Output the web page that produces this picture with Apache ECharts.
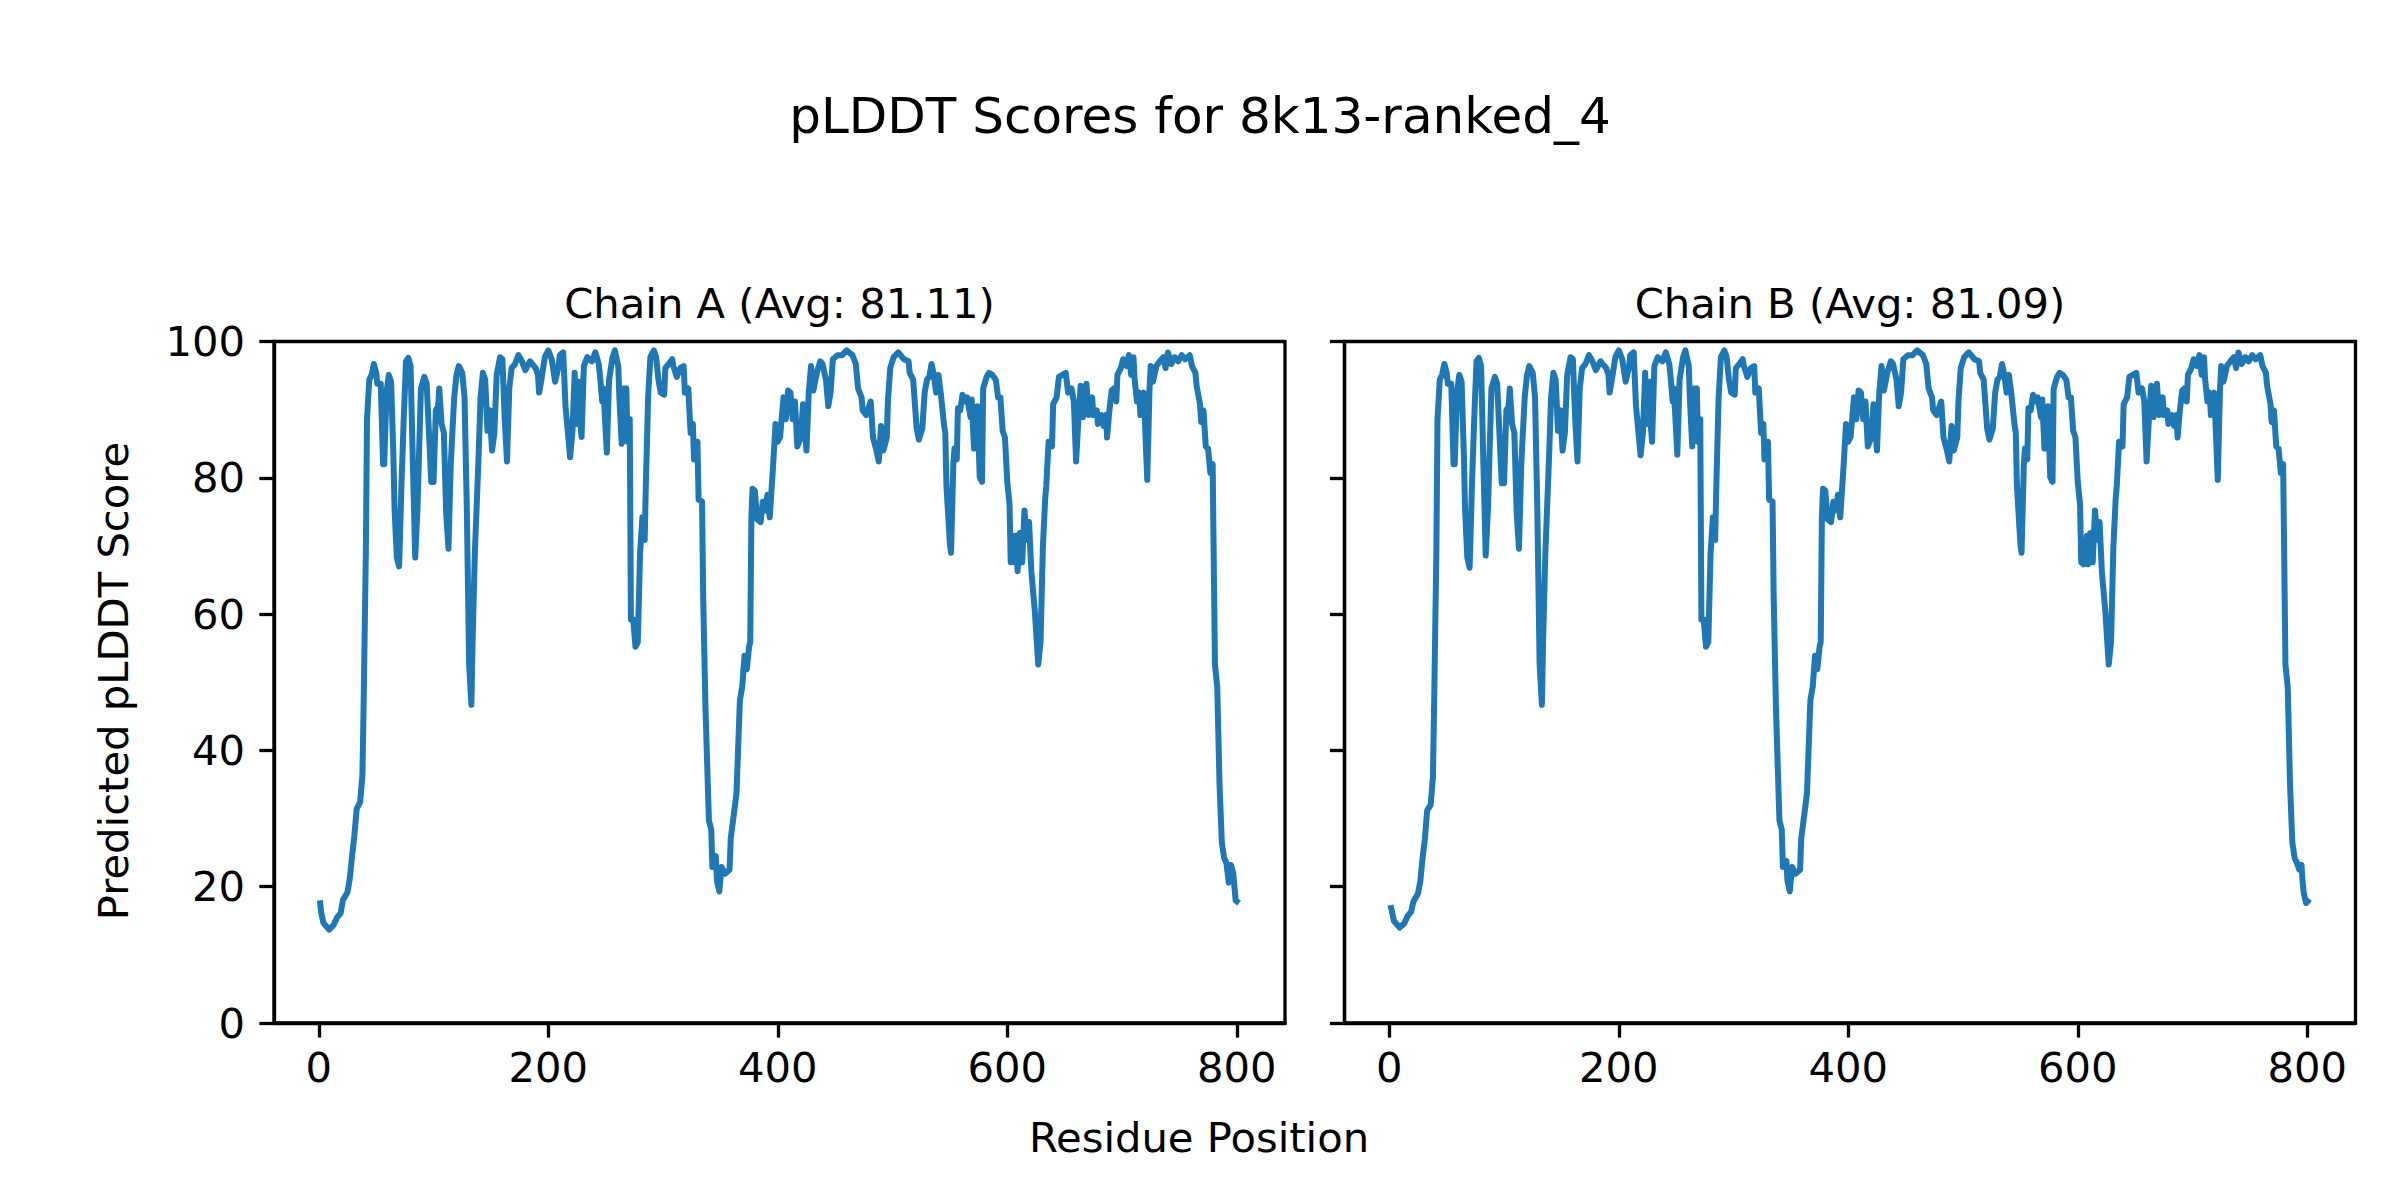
<!DOCTYPE html>
<html>
<head>
<meta charset="utf-8">
<script src="https://cdn.jsdelivr.net/npm/echarts@6/dist/echarts.min.js"></script>
<style>html,body{margin:0;padding:0;background:#fff}#c{width:2400px;height:1200px}</style>
</head>
<body>
<div id="c"></div>
<script>
var figTitle = 'pLDDT Scores for 8k13-ranked_4';
var chainTitles = ['Chain A (Avg: 81.11)', 'Chain B (Avg: 81.09)'];
var xLabel = 'Residue Position';
var yLabel = 'Predicted pLDDT Score';
var xTicks = [0, 200, 400, 600, 800];
var yTicks = [0, 20, 40, 60, 80, 100];

// [residue, pLDDT]
var chainA = [[1,18.0],[2,16.3],[4,14.7],[9,13.7],[13,14.4],[16,15.5],[19,16.1],[21,18],[25,19.2],[27,21.2],[29,24.5],[31,27.5],[33,31.4],[36,32.4],[38,36.3],[39,46],[41,69],[42,88.6],[44,94.4],[46,95.1],[48,96.7],[50,95.4],[51,93.8],[54,93.8],[56,82],[57,82],[59,92.5],[61,95.1],[63,94.1],[65,83.3],[66,75.5],[68,68.3],[70,67],[72,78.8],[74,88.6],[76,97.1],[78,97.6],[80,96.4],[82,82],[84,68.3],[86,75.5],[89,93.1],[92,94.8],[94,93.8],[98,79.4],[100,79.4],[102,89.9],[104,90.5],[105,93.1],[107,87.9],[109,86.6],[111,74.8],[113,69.6],[115,82],[118,91.8],[120,95.1],[122,96.4],[125,95.4],[127,91.8],[129,75.5],[131,52.6],[133,46.7],[134,55.9],[136,69],[139,82],[141,91.8],[143,95.4],[145,94.4],[147,86.9],[149,89.9],[151,84],[153,86.6],[155,95.1],[158,97.7],[160,97.4],[162,88.6],[164,82.4],[166,93.1],[168,96.1],[171,96.7],[174,98],[177,97.1],[180,95.8],[184,97.1],[189,96.1],[191,95.1],[192,92.5],[194,94.4],[197,97.7],[200,98.7],[203,97.4],[206,94.1],[209,96.4],[210,98],[213,98.4],[215,90.5],[219,83],[221,86.6],[223,95.4],[224,87.9],[227,94.1],[228,87.9],[229,86],[231,96.4],[234,97.7],[238,97.1],[241,98.4],[244,96.7],[245,95.1],[247,91.2],[248,93.1],[251,83.7],[253,94.4],[256,97.7],[258,98.7],[261,96.4],[262,91.5],[264,85],[266,93.1],[268,93.1],[269,85.3],[271,88.6],[272,59.2],[274,59.2],[276,55.2],[278,55.9],[280,69],[282,74.2],[284,70.9],[285,78.8],[287,91.8],[289,97.7],[292,98.7],[294,97.7],[296,94.4],[298,92.5],[301,92.2],[302,96.1],[305,96.7],[308,97.4],[309,96.4],[312,94.8],[315,96.1],[318,96.4],[319,92.5],[322,93.1],[324,86.6],[326,87.9],[327,82.7],[330,85.3],[331,76.8],[334,76.5],[335,62.4],[337,46.1],[340,29.7],[342,28.4],[343,22.9],[346,24.5],[347,20.9],[349,19.3],[351,22.9],[354,21.9],[358,22.5],[359,27.1],[362,31],[364,33.7],[366,42.8],[367,47.4],[369,49.3],[371,53.9],[373,51.9],[375,55.2],[376,55.9],[377,74.2],[378,78.4],[380,78.1],[382,73.9],[385,73.5],[387,76.5],[389,75.2],[391,77.5],[393,74.2],[396,82],[398,87.9],[400,85.3],[402,86],[405,91.8],[407,88.6],[409,92.8],[411,92.5],[413,88.6],[415,91.2],[417,84.6],[420,85.9],[422,90.8],[425,84],[427,92.5],[429,96.4],[431,92.8],[434,95.4],[437,97.1],[439,96.7],[442,94.4],[444,90.5],[446,92.5],[448,97.4],[452,98],[456,98],[460,98.7],[465,98],[468,96.7],[470,93.1],[473,91.8],[474,89.9],[477,89.2],[479,90.2],[481,91.2],[483,85.9],[486,84],[488,82.4],[490,87.6],[492,84],[495,85.9],[496,91.2],[498,96.1],[501,97.7],[505,98.4],[510,97.4],[514,97.1],[515,95.4],[518,94.4],[521,87.3],[523,85.6],[526,87.3],[528,92.5],[530,94.4],[532,94.8],[534,96.7],[536,95.1],[538,92.5],[540,95.1],[542,92.5],[545,87.6],[546,86.6],[547,78.8],[550,70.3],[551,69],[553,82],[554,84.3],[556,82.7],[557,90.2],[559,89.9],[561,92.2],[563,91.2],[565,91.8],[568,88.9],[569,91.5],[571,84.3],[574,90.5],[576,80.1],[578,79.4],[579,93.1],[582,94.8],[584,95.4],[587,95.1],[590,94.4],[592,91.8],[594,91.8],[596,86.9],[598,85.9],[600,79.4],[602,76.1],[603,67.6],[605,71.5],[606,67.6],[608,71.5],[609,66.3],[611,71.9],[613,67.6],[615,75.2],[617,70.9],[619,73.5],[621,66.3],[623,62.4],[624,60.5],[627,52.6],[629,55.9],[631,69.6],[633,76.8],[634,78.8],[636,85.3],[639,84.6],[640,90.8],[643,91.8],[645,94.8],[648,95.1],[651,95.4],[653,92.5],[656,93.1],[658,91.2],[660,82.4],[662,88.6],[664,93.5],[666,88.9],[669,93.8],[671,89.2],[674,91.8],[675,89.2],[678,89.9],[679,87.9],[682,89.2],[684,87.6],[686,89.2],[687,85.9],[689,89.9],[691,92.8],[693,93.1],[695,91.2],[696,95.1],[699,96.1],[701,97.4],[704,96.4],[706,98],[708,95.1],[710,97.7],[711,94.4],[713,91.2],[715,92.5],[716,89.2],[719,92.5],[722,79.7],[724,93.1],[725,96.4],[727,94.1],[730,96.4],[733,97.1],[736,97.7],[738,96.1],[740,98.4],[743,96.7],[746,97.7],[749,97.1],[752,98],[755,97.4],[759,98],[761,96.4],[764,95.4],[765,93.5],[768,90.8],[769,88.2],[771,89.9],[773,84.6],[775,84.3],[777,80.7],[779,82],[781,52.6],[783,49.3],[785,35],[787,26.5],[789,24.2],[791,23.5],[793,20.6],[795,23.2],[797,21.9],[799,18],[802,17.6]];

var chainB = [[1,17.3],[2,16.6],[4,15.0],[9,14.0],[13,14.6],[16,15.7],[19,16.3],[21,17.8],[25,19.0],[27,20.8],[29,24.2],[31,27.0],[33,31.2],[36,32.0],[38,36.0],[39,46],[41,69],[42,88.6],[44,94.4],[46,95.1],[48,96.7],[50,95.4],[51,93.8],[54,93.8],[56,82],[57,82],[59,92.5],[61,95.1],[63,94.1],[65,83.3],[66,75.5],[68,68.3],[70,66.8],[72,78.8],[74,88.6],[76,97.1],[78,97.6],[80,96.4],[82,82],[84,68.6],[86,75.5],[89,93.1],[92,94.8],[94,93.8],[98,79.2],[100,79.2],[102,89.9],[104,90.5],[105,93.1],[107,87.9],[109,86.6],[111,74.8],[113,69.6],[115,82],[118,91.8],[120,95.1],[122,96.4],[125,95.4],[127,91.8],[129,75.5],[131,52.6],[133,46.7],[134,55.9],[136,69],[139,82],[141,91.8],[143,95.4],[145,94.4],[147,86.9],[149,89.9],[151,84],[153,86.6],[155,95.1],[158,97.7],[160,97.4],[162,88.6],[164,82.4],[166,93.1],[168,96.1],[171,96.7],[174,98],[177,97.1],[180,95.8],[184,97.1],[189,96.1],[191,95.1],[192,92.5],[194,94.4],[197,97.7],[200,98.7],[203,97.4],[206,94.1],[209,96.4],[210,98],[213,98.4],[215,90.5],[219,83.3],[221,86.6],[223,95.4],[224,87.9],[227,94.1],[228,87.5],[229,85.3],[231,96.4],[234,97.7],[238,97.1],[241,98.4],[244,96.7],[245,95.1],[247,91.2],[248,93.1],[251,83.4],[253,94.4],[256,97.7],[258,98.7],[261,96.4],[262,91.5],[264,84.6],[266,93.1],[268,93.1],[269,85.3],[271,88.6],[272,59.2],[274,59.2],[276,55.2],[278,55.9],[280,69],[282,74.2],[284,70.9],[285,78.8],[287,91.8],[289,97.7],[292,98.7],[294,97.7],[296,94.4],[298,92.5],[301,92.2],[302,96.1],[305,96.7],[308,97.4],[309,96.4],[312,94.8],[315,96.1],[318,96.4],[319,92.5],[322,93.1],[324,86.6],[326,87.9],[327,82.7],[330,85.3],[331,76.8],[334,76.5],[335,62.4],[337,46.1],[340,29.7],[342,28.4],[343,22.9],[346,23.8],[347,20.9],[349,19.3],[351,22.9],[354,21.9],[358,22.5],[359,27.1],[362,31],[364,33.7],[366,42.8],[367,47.4],[369,49.3],[371,53.9],[373,51.9],[375,55.2],[376,55.9],[377,74.2],[378,78.4],[380,78.1],[382,73.9],[385,73.5],[387,76.5],[389,75.2],[391,77.5],[393,74.2],[396,82],[398,87.9],[400,85.3],[402,86],[405,91.8],[407,88.6],[409,92.8],[411,92.5],[413,88.6],[415,91.2],[417,84.6],[420,85.9],[422,90.8],[425,84],[427,92.5],[429,96.4],[431,92.8],[434,95.4],[437,97.1],[439,96.7],[442,94.4],[444,90.5],[446,92.5],[448,97.4],[452,98],[456,98],[460,98.7],[465,98],[468,96.7],[470,93.1],[473,91.8],[474,89.9],[477,89.2],[479,90.2],[481,91.2],[483,85.9],[486,84],[488,82.4],[490,87.6],[492,84],[495,85.9],[496,91.2],[498,96.1],[501,97.7],[505,98.4],[510,97.4],[514,97.1],[515,95.4],[518,94.4],[521,87.3],[523,85.6],[526,87.3],[528,92.5],[530,94.4],[532,94.8],[534,96.7],[536,95.1],[538,92.5],[540,95.1],[542,92.5],[545,87.6],[546,86.6],[547,78.8],[550,70.3],[551,69],[553,82],[554,84.3],[556,82.7],[557,90.2],[559,89.9],[561,92.2],[563,91.2],[565,91.8],[568,88.9],[569,91.5],[571,84.3],[574,90.5],[576,80.1],[578,79.4],[579,93.1],[582,94.8],[584,95.4],[587,95.1],[590,94.4],[592,91.8],[594,91.8],[596,86.9],[598,85.9],[600,79.4],[602,76.1],[603,67.6],[605,67.3],[606,67.6],[608,71.5],[609,67.3],[611,71.9],[613,67.6],[615,75.2],[617,70.9],[619,73.5],[621,66.3],[623,62.4],[624,60.5],[627,52.6],[629,55.9],[631,69.6],[633,76.8],[634,78.8],[636,85.3],[639,84.6],[640,90.8],[643,91.8],[645,94.8],[648,95.1],[651,95.4],[653,92.5],[656,93.1],[658,91.2],[660,82.4],[662,88.6],[664,93.5],[666,88.9],[669,93.8],[671,89.2],[674,91.8],[675,89.2],[678,89.9],[679,87.9],[682,89.2],[684,87.6],[686,89.2],[687,85.9],[689,89.9],[691,92.8],[693,93.1],[695,91.2],[696,95.1],[699,96.1],[701,97.4],[704,96.4],[706,98],[708,95.1],[710,97.7],[711,94.4],[713,91.2],[715,92.5],[716,89.2],[719,92.5],[722,79.7],[724,93.1],[725,96.4],[727,94.1],[730,96.4],[733,97.1],[736,97.7],[738,96.1],[740,98.4],[743,96.7],[746,97.7],[749,97.1],[752,98],[755,97.4],[759,98],[761,96.4],[764,95.4],[765,93.5],[768,90.8],[769,88.2],[771,89.9],[773,84.6],[775,84.3],[777,80.7],[779,82],[781,52.6],[783,49.3],[785,35],[787,26.5],[789,24.2],[791,23.5],[793,22.5],[795,23.2],[796,20.6],[797,19.0],[799,17.6],[802,18.2]];

var FONT = 'DejaVu Sans';
var BLACK = '#000000';
var LINE = '#1f77b4';
var grids = [
  {left: 274, top: 341.5, width: 1011, height: 681.5},
  {left: 1344.5, top: 341.5, width: 1011, height: 681.5}
];

var chart = echarts.init(document.getElementById('c'), null, {renderer: 'svg', width: 2400, height: 1200});

function xAx(i) {
  return {
    type: 'value', gridIndex: i, min: -39.05, max: 842.05,
    axisLine: {show: true, onZero: false, lineStyle: {color: BLACK, width: 3.3}},
    axisTick: {show: true, customValues: xTicks, length: 14.6, lineStyle: {color: BLACK, width: 3.3}},
    axisLabel: {show: true, customValues: xTicks, margin: 23, color: BLACK, fontFamily: FONT, fontSize: 41.7},
    splitLine: {show: false}
  };
}
function yAx(i, labels) {
  return {
    type: 'value', gridIndex: i, min: 0, max: 100, interval: 20,
    axisLine: {show: true, onZero: false, lineStyle: {color: BLACK, width: 3.3}},
    axisTick: {show: true, length: 14.6, lineStyle: {color: BLACK, width: 3.3}},
    axisLabel: {show: labels, margin: 29, color: BLACK, fontFamily: FONT, fontSize: 41.7},
    splitLine: {show: false}
  };
}

var option = {
  animation: false,
  backgroundColor: '#ffffff',
  grid: grids.map(function (g) {
    return Object.assign({show: true, borderColor: BLACK, borderWidth: 3.3, backgroundColor: 'transparent', containLabel: false}, g);
  }),
  xAxis: [xAx(0), xAx(1)],
  yAxis: [yAx(0, true), yAx(1, false)],
  series: [chainA, chainB].map(function (d, i) {
    return {
      type: 'line', xAxisIndex: i, yAxisIndex: i, data: d,
      showSymbol: false, symbol: 'none',
      lineStyle: {color: LINE, width: 6, join: 'round', cap: 'butt'},
      itemStyle: {color: LINE}, z: 1
    };
  }),
  graphic: [
    {type: 'text', x: 1200, y: 116, style: {text: figTitle, fill: BLACK, font: '50px "' + FONT + '"', textAlign: 'center', textVerticalAlign: 'middle'}},
    {type: 'text', x: grids[0].left + grids[0].width / 2, y: 303, style: {text: chainTitles[0], fill: BLACK, font: '41.7px "' + FONT + '"', textAlign: 'center', textVerticalAlign: 'middle'}},
    {type: 'text', x: grids[1].left + grids[1].width / 2, y: 303, style: {text: chainTitles[1], fill: BLACK, font: '41.7px "' + FONT + '"', textAlign: 'center', textVerticalAlign: 'middle'}},
    {type: 'text', x: 1199, y: 1137, style: {text: xLabel, fill: BLACK, font: '41.7px "' + FONT + '"', textAlign: 'center', textVerticalAlign: 'middle'}},
    {type: 'text', x: 113, y: 681, rotation: Math.PI / 2, style: {text: yLabel, fill: BLACK, font: '41.7px "' + FONT + '"', textAlign: 'center', textVerticalAlign: 'middle'}}
  ]
};
chart.setOption(option);
</script>
</body>
</html>
